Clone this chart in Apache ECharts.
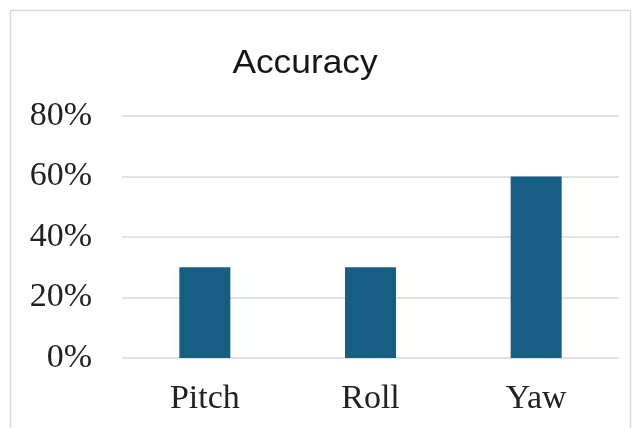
<!DOCTYPE html>
<html>
<head>
<meta charset="utf-8">
<style>
  html, body { margin: 0; padding: 0; background: #ffffff; }
  #chart { width: 639px; height: 428px; }
</style>
<script src="https://cdn.jsdelivr.net/npm/echarts@6/dist/echarts.min.js"></script>
</head>
<body>
<div id="chart"></div>
<script>
// Accuracy per rotation axis
const categories = ['Pitch', 'Roll', 'Yaw'];
const accuracy = [30, 30, 60];
const yTicks = [0, 20, 40, 60, 80];

const chart = echarts.init(document.getElementById('chart'), null, { renderer: 'canvas' });

chart.setOption({
  backgroundColor: '#ffffff',
  animation: false,
  graphic: [
    {
      // thin frame around the chart area
      type: 'rect',
      shape: { x: 10.5, y: 10.5, width: 620, height: 430 },
      style: { fill: 'none', stroke: '#d9d9d9', lineWidth: 1.5 },
      silent: true
    },
    {
      // chart title
      type: 'text',
      x: 305,
      y: 64,
      scaleX: 1.07,
      style: {
        text: 'Accuracy',
        fontFamily: 'Liberation Sans, Arial, sans-serif',
        fontSize: 33,
        fill: '#161616',
        align: 'center',
        verticalAlign: 'middle'
      },
      silent: true
    }
  ],
  grid: { left: 122, right: 20, top: 116, bottom: 70, containLabel: false },
  xAxis: {
    type: 'category',
    data: categories,
    axisLine: { show: false },
    axisTick: { show: false },
    axisLabel: {
      margin: 24,
      fontFamily: 'Liberation Serif, Times New Roman, serif',
      fontSize: 34,
      color: '#222222'
    }
  },
  yAxis: {
    type: 'value',
    min: yTicks[0],
    max: yTicks[yTicks.length - 1],
    interval: 20,
    axisLine: { show: false },
    axisTick: { show: false },
    axisLabel: {
      margin: 30,
      fontFamily: 'Liberation Serif, Times New Roman, serif',
      fontSize: 34,
      color: '#222222',
      formatter: v => v + '%'
    },
    splitLine: { lineStyle: { color: '#d9d9d9', width: 1.5 } }
  },
  series: [{
    type: 'bar',
    data: accuracy,
    barWidth: 51,
    itemStyle: { color: '#175e85' }
  }]
});
</script>
</body>
</html>
